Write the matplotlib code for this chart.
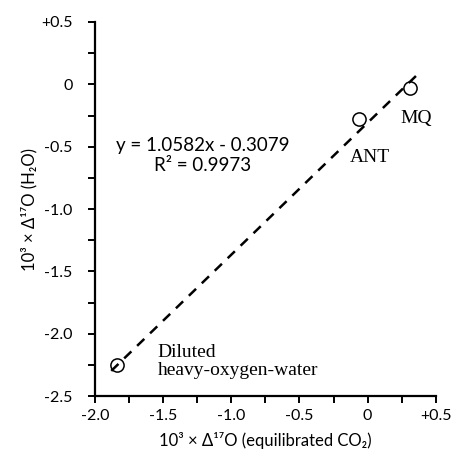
import matplotlib
matplotlib.use("Agg")
import matplotlib.pyplot as plt
from matplotlib.ticker import MultipleLocator, FixedLocator
import numpy as np

plt.rcParams["font.family"] = ["Lato", "DejaVu Sans"]

# data
names = ["MQ", "ANT", "Diluted\nheavy-oxygen-water"]
co2 = [0.31, -0.06, -1.84]
h2o = [-0.03, -0.28, -2.25]
slope, intercept = 1.0582, -0.3079
fit_x = [-1.88, 0.38]
label_pos = [(0.24, -0.27), (-0.13, -0.59), (-1.54, -2.22)]

xticks = [-2.0, -1.5, -1.0, -0.5, 0.0, 0.5]
xlabels = ["-2.0", "-1.5", "-1.0", "-0.5", "0", "+0.5"]
yticks = [-2.5, -2.0, -1.5, -1.0, -0.5, 0.0, 0.5]
ylabels = ["-2.5", "-2.0", "-1.5", "-1.0", "-0.5", "0", "+0.5"]

fig = plt.figure(figsize=(4.54, 4.58), dpi=100)
ax = fig.add_axes([0.209, 0.135, 0.751, 0.817])

fx = np.array(fit_x)
ax.plot(fx, slope * fx + intercept, "k--", lw=1.8, dashes=(4, 3.2))
ax.plot(co2, h2o, "o", ms=9.5, mfc="none", mec="black", mew=1.1)

for n, (lx, ly) in zip(names, label_pos):
    ax.text(lx, ly, n, family="Liberation Serif", fontsize=14,
            va="center", ha="left", linespacing=1.05)

ax.text(-1.21, -0.57, "y = 1.0582x - 0.3079\nR² = 0.9973", fontsize=13.5,
        ha="center", va="center", linespacing=1.25)

ax.set_xlim(-2.0, 0.5)
ax.set_ylim(-2.5, 0.5)
ax.xaxis.set_major_locator(FixedLocator(xticks))
ax.set_xticklabels(xlabels)
ax.yaxis.set_major_locator(FixedLocator(yticks))
ax.set_yticklabels(ylabels)
ax.xaxis.set_minor_locator(MultipleLocator(0.25))
ax.yaxis.set_minor_locator(MultipleLocator(0.25))

for s in ["top", "right"]:
    ax.spines[s].set_visible(False)
for s in ["left", "bottom"]:
    ax.spines[s].set_linewidth(1.6)

ax.tick_params(which="both", direction="out", length=5, width=1.4,
               labelsize=11.5)
ax.tick_params(axis="x", pad=4)
ax.tick_params(axis="y", pad=11)

ax.set_xlabel("10³ × Δ¹⁷O (equilibrated CO₂)", fontsize=12, labelpad=7)
ax.set_ylabel("10³ × Δ¹⁷O (H₂O)", fontsize=12, labelpad=3)

fig.savefig("out.png", dpi=100)
